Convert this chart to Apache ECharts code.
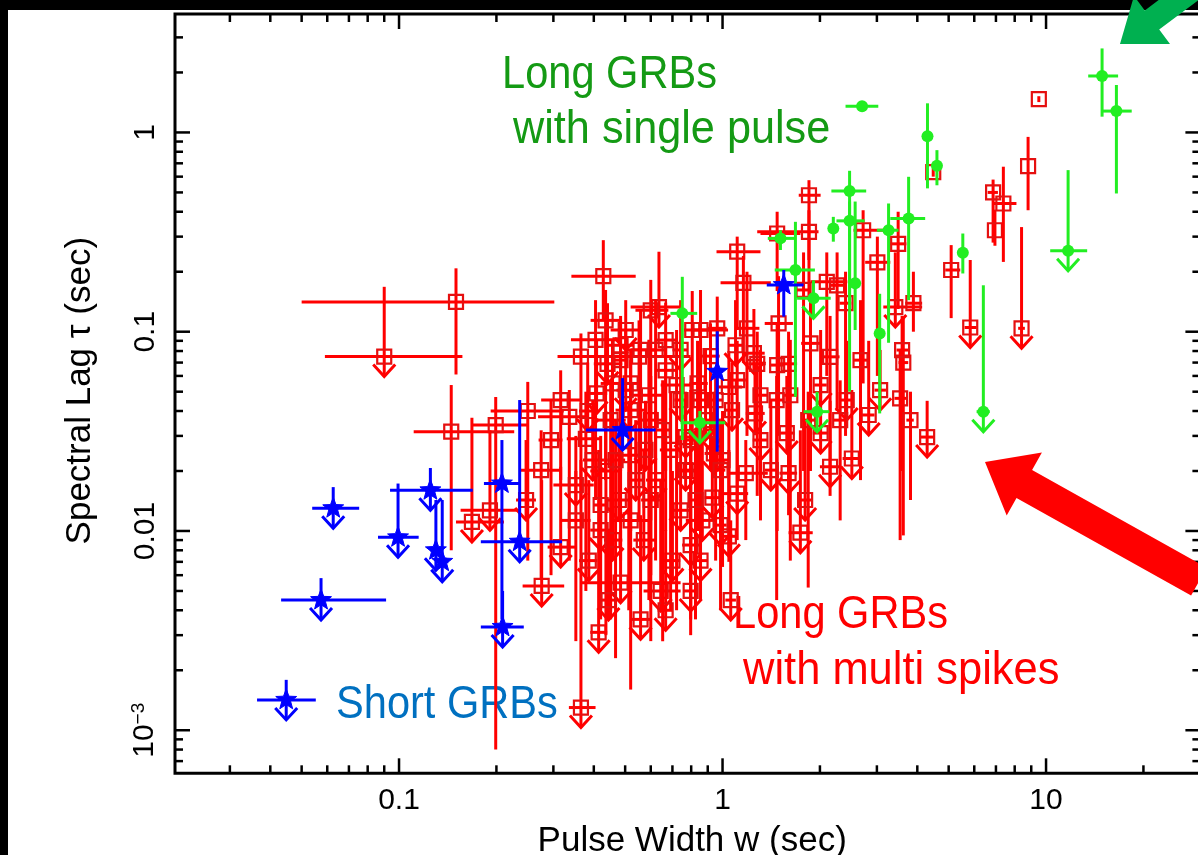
<!DOCTYPE html>
<html><head><meta charset="utf-8">
<script src="https://cdn.jsdelivr.net/npm/echarts@6/dist/echarts.min.js"></script>
<style>
html,body{margin:0;padding:0;background:#000;width:1198px;height:855px;overflow:hidden;}
#chart{position:absolute;left:0;top:0;width:1198px;height:855px;}
</style></head><body><div id="chart"></div>
<script>
// Each point: [x, y, xLow, xHigh, yLow, yHigh, upperLimit]
const longMultiSpike = [
[0.150,0.141,0.050,0.302,0.061,0.208,0],
[0.090,0.075,0.059,0.157,0.075,0.168,1],
[0.428,0.190,0.341,0.539,0.114,0.288,0],
[0.145,0.0315,0.111,0.227,0.008,0.054,0],
[0.199,0.034,0.167,0.250,0.0008,0.047,0],
[0.250,0.040,0.192,0.323,0.0071,0.056,0],
[0.168,0.0111,0.150,0.211,0.0111,0.037,1],
[0.191,0.0127,0.155,0.238,0.0127,0.032,1],
[0.316,0.0083,0.288,0.352,0.0083,0.021,1],
[0.276,0.0053,0.241,0.324,0.0053,0.018,1],
[0.365,0.0013,0.335,0.405,0.0013,0.0227,1],
[0.414,0.0031,0.39,0.44,0.0031,0.0255,1],
[0.484,0.0055,0.365,0.742,0.0055,0.0101,1],
[0.644,0.0050,0.57,0.742,0.0050,0.018,1],
[0.571,0.0090,0.53,0.62,0.0090,0.0255,1],
[0.52,0.0113,0.451,0.60,0.0016,0.020,0],
[0.636,0.133,0.52,0.742,0.133,0.252,1],
[0.365,0.075,0.309,0.532,0.0143,0.098,0],
[0.441,0.069,0.40,0.49,0.069,0.139,1],
[0.552,0.075,0.467,0.797,0.0113,0.114,0],
[0.336,0.0374,0.269,0.383,0.0071,0.051,0],
[1.85,0.484,1.72,2.01,0.229,0.576,0],
[1.11,0.252,0.958,1.31,0.102,0.30,0],
[1.85,0.317,1.28,1.98,0.144,0.407,0],
[1.475,0.311,1.31,1.74,0.16,0.40,0],
[2.72,0.323,2.54,3.23,0.055,0.407,0],
[3.01,0.223,2.76,3.30,0.06,0.30,0],
[3.49,0.276,3.3,3.7,0.13,0.40,0],
[5.09,0.204,4.88,5.43,0.117,0.272,0],
[6.86,0.50,6.6,7.1,0.28,0.58,0],
[6.95,0.323,6.95,6.95,0.27,0.41,0],
[7.38,0.44,6.86,8.1,0.224,0.673,0],
[8.8,0.677,8.8,8.8,0.407,0.95,0],
[4.48,0.632,4.48,4.48,0.6,0.66,0],
[9.5,1.47,9.5,9.5,1.42,1.52,0],
[5.83,0.105,5.6,6.1,0.105,0.229,1],
[8.4,0.104,8.2,8.6,0.104,0.335,1],
[3.42,0.133,3.14,4.14,0.133,0.25,1],
[3.89,0.139,3.67,4.14,0.10,0.20,0],
[3.62,0.070,3.5,3.75,0.0095,0.118,0],
[0.866,0.0113,0.77,0.95,0.0113,0.032,1],
[1.046,0.0094,0.98,1.1,0.0094,0.0255,1],
[1.11,0.0154,1.0,1.2,0.0154,0.036,1],
[1.18,0.0195,1.04,1.38,0.009,0.0286,0],
[1.74,0.0098,1.6,1.9,0.0098,0.032,1],
[1.60,0.0195,1.5,1.7,0.0195,0.045,1],
[2.15,0.021,2.0,2.3,0.021,0.045,1],
[2.51,0.0231,2.35,2.68,0.0231,0.051,1],
[4.29,0.0296,4.1,4.5,0.0296,0.045,1],
[1.16,0.176,0.986,1.41,0.07,0.24,0],
[2.10,0.178,1.87,2.43,0.06,0.25,0],
[2.26,0.171,2.15,2.4,0.04,0.25,0],
[2.40,0.139,2.3,2.5,0.03,0.2,0],
[0.806,0.102,0.76,1.04,0.03,0.16,0],
[0.963,0.104,0.9,1.03,0.02,0.15,0],
[1.19,0.104,1.1,1.3,0.03,0.2,0],
[1.49,0.110,1.35,1.65,0.03,0.19,0],
[1.87,0.0874,1.75,2.0,0.02,0.15,0],
[2.15,0.0748,2.0,2.3,0.015,0.12,0],
[1.25,0.078,1.15,1.35,0.078,0.13,1],
[1.475,0.068,1.4,1.55,0.01,0.11,0],
[1.046,0.0528,0.95,1.15,0.007,0.08,0],
[1.26,0.0389,1.18,1.35,0.0389,0.07,1],
[2.42,0.0454,2.3,2.55,0.0454,0.09,1],
[2.83,0.0382,2.7,2.95,0.0382,0.09,1],
[3.54,0.0463,3.4,3.7,0.009,0.08,0],
[3.59,0.0809,3.45,3.75,0.02,0.12,0],
[0.94,0.0245,0.88,1.0,0.0245,0.05,1],
[0.457,0.055,0.42,0.5,0.015,0.09,0],
[0.52,0.055,0.48,0.56,0.01,0.08,0],
[0.558,0.081,0.5,0.62,0.02,0.13,0],
[0.408,0.049,0.38,0.44,0.049,0.09,1],
[0.378,0.029,0.33,0.42,0.005,0.05,0],
[0.352,0.017,0.3,0.4,0.017,0.03,1],
[0.436,0.020,0.39,0.48,0.003,0.04,0],
[0.478,0.0143,0.44,0.52,0.0143,0.03,1],
[0.513,0.024,0.47,0.56,0.004,0.045,0],
[0.60,0.036,0.55,0.66,0.006,0.06,0],
[0.621,0.018,0.58,0.67,0.018,0.04,1],
[0.691,0.0255,0.64,0.74,0.004,0.05,0],
[0.742,0.0127,0.70,0.79,0.0127,0.03,1],
[0.797,0.020,0.74,0.86,0.003,0.04,0],
[0.855,0.0454,0.80,0.92,0.008,0.07,0],
[0.918,0.0754,0.86,0.98,0.02,0.11,0],
[0.837,0.055,0.79,0.9,0.01,0.09,0],
[0.667,0.064,0.62,0.72,0.01,0.10,0],
[0.70,0.0071,0.66,0.74,0.0071,0.02,1],
[0.797,0.0085,0.75,0.85,0.0085,0.025,1],
[0.42,0.0101,0.39,0.45,0.0101,0.03,1],
[0.558,0.0036,0.52,0.6,0.0036,0.012,1],
[0.93,0.0147,0.88,0.98,0.0147,0.03,1],
[1.0,0.0227,0.95,1.05,0.0066,0.04,0],
[0.383,0.040,0.36,0.41,0.040,0.07,1],
[0.295,0.0286,0.27,0.32,0.006,0.045,0],
[0.484,0.0855,0.44,0.53,0.02,0.12,0],
[0.667,0.0908,0.62,0.72,0.02,0.14,0],
[1.31,0.0286,1.24,1.38,0.0286,0.05,1],
[1.58,0.031,1.5,1.67,0.031,0.06,1],
[2.01,0.031,1.9,2.12,0.031,0.06,1],
[1.11,0.0572,1.05,1.18,0.009,0.09,0],
[1.28,0.069,1.2,1.36,0.015,0.1,0],
[1.6,0.069,1.5,1.7,0.012,0.1,0],
[1.78,0.162,1.7,1.86,0.02,0.25,0],
[1.07,0.0404,1.02,1.12,0.0404,0.07,1],
[0.769,0.0296,0.72,0.82,0.0296,0.05,1],
[1.47,0.0454,1.4,1.55,0.0045,0.06,0],
[1.84,0.036,1.75,1.95,0.0052,0.05,0],
[3.81,0.036,3.7,3.9,0.0143,0.05,0],
[0.435,0.114,0.391,0.484,0.018,0.162,0],
[0.502,0.102,0.451,0.558,0.102,0.144,1],
[0.60,0.128,0.538,0.68,0.0113,0.182,0],
[0.451,0.036,0.405,0.502,0.0036,0.057,0],
[0.52,0.0404,0.467,0.578,0.0404,0.072,1],
[0.592,0.048,0.527,0.653,0.0045,0.091,0],
[0.721,0.054,0.644,0.797,0.004,0.102,0],
[0.886,0.036,0.797,0.986,0.036,0.081,1],
[0.397,0.0227,0.37,0.43,0.0227,0.045,1],
[0.457,0.009,0.43,0.49,0.009,0.020,1],
[0.60,0.0143,0.56,0.64,0.0028,0.0286,0],
[0.769,0.0202,0.72,0.82,0.0202,0.045,1],
[0.855,0.0071,0.81,0.9,0.0071,0.018,1],
[0.986,0.0107,0.94,1.03,0.0107,0.0255,1],
[0.667,0.004,0.63,0.7,0.004,0.0101,1],
[0.275,0.0202,0.238,0.316,0.0057,0.032,0],
[0.247,0.0143,0.23,0.265,0.0143,0.0286,1],
[0.352,0.0113,0.316,0.391,0.0028,0.020,0],
[0.797,0.0286,0.76,0.84,0.0036,0.051,0],
[0.952,0.0454,0.91,1.0,0.0071,0.064,0],
[1.31,0.048,1.25,1.38,0.0113,0.081,0],
[1.41,0.0202,1.35,1.47,0.0202,0.045,1],
[1.80,0.0143,1.72,1.88,0.0143,0.036,1],
[2.31,0.036,2.2,2.42,0.0113,0.057,0],
[0.484,0.072,0.46,0.51,0.0071,0.114,0],
[0.405,0.091,0.34,0.484,0.0143,0.144,0],
[0.855,0.102,0.8,0.91,0.0045,0.162,0],
[0.742,0.081,0.7,0.78,0.081,0.144,1],
[1.097,0.0855,1.04,1.15,0.0855,0.144,1],
[1.62,0.048,1.55,1.7,0.0071,0.091,0],
[2.01,0.054,1.92,2.1,0.054,0.102,1],
[2.67,0.072,2.55,2.8,0.018,0.144,0],
[3.07,0.0509,2.95,3.2,0.0509,0.081,1],
[1.06,0.0045,1.02,1.1,0.0045,0.0113,1],
[0.578,0.0255,0.55,0.61,0.0255,0.045,1],
[0.42,0.0135,0.4,0.44,0.0036,0.020,0],
[0.316,0.0454,0.275,0.365,0.018,0.064,0],
[0.467,0.0227,0.44,0.5,0.0023,0.036,0],
[0.539,0.018,0.51,0.57,0.018,0.036,1],
[0.653,0.0321,0.62,0.69,0.0028,0.057,0],
[0.742,0.0454,0.71,0.78,0.0454,0.091,1],
[0.825,0.0143,0.79,0.86,0.0036,0.032,0],
[0.918,0.0321,0.88,0.96,0.0321,0.072,1],
[0.502,0.0509,0.47,0.53,0.0509,0.102,1],
[0.621,0.081,0.59,0.66,0.0071,0.144,0],
[0.986,0.0202,0.95,1.02,0.004,0.036,0],
[0.386,0.0071,0.36,0.41,0.0071,0.018,1],
[0.444,0.0045,0.42,0.47,0.0045,0.0101,1],
[0.797,0.0050,0.76,0.84,0.0050,0.0113,1]
];
const longSinglePulse = [
[2.70,1.355,2.40,3.03,1.3,1.4,0],
[4.30,0.958,4.30,4.30,0.524,1.40,0],
[4.60,0.68,4.60,4.60,0.543,0.815,0],
[14.9,1.92,13.5,16.7,1.20,2.64,0],
[16.5,1.28,14.9,18.4,0.494,1.73,0],
[11.7,0.255,10.3,13.4,0.255,0.647,1],
[5.53,0.249,5.53,5.53,0.196,0.311,0],
[3.76,0.370,3.30,4.23,0.144,0.599,0],
[3.26,0.323,3.0,3.5,0.088,0.44,0],
[3.06,0.098,3.06,3.06,0.0389,0.155,0],
[2.47,0.509,2.17,2.78,0.144,0.642,0],
[2.47,0.360,2.25,2.75,0.05,0.45,0],
[2.20,0.33,2.20,2.20,0.283,0.377,0],
[2.57,0.175,2.57,2.57,0.102,0.45,0],
[0.751,0.1236,0.69,0.835,0.0286,0.1886,0],
[0.851,0.0349,0.742,1.02,0.0349,0.04,1],
[1.51,0.294,1.38,1.67,0.257,0.323,0],
[1.68,0.204,1.45,1.93,0.0471,0.356,0],
[1.91,0.147,1.70,2.16,0.147,0.181,1],
[1.96,0.0397,1.78,2.14,0.0397,0.05,1],
[6.40,0.0397,6.1,6.7,0.0397,0.171,1]
];
const shortGRB = [
[0.0626,0.0130,0.0539,0.0753,0.0130,0.0166,1],
[0.0993,0.00929,0.0861,0.115,0.00929,0.0173,1],
[0.125,0.016,0.0938,0.169,0.016,0.0207,1],
[0.130,0.0080,0.125,0.135,0.0080,0.0143,1],
[0.136,0.0070,0.13,0.142,0.0070,0.0143,1],
[0.208,0.0173,0.183,0.238,0.0036,0.0286,0],
[0.209,0.0033,0.179,0.243,0.0033,0.005,1],
[0.236,0.00883,0.179,0.319,0.00883,0.0454,1],
[0.491,0.0321,0.378,0.621,0.0321,0.0585,1],
[0.963,0.0629,0.94,0.99,0.025,0.1005,0],
[1.546,0.1714,1.37,1.78,0.119,0.204,0],
[0.0574,0.0045,0.0432,0.0912,0.0045,0.0058,1]
];
const shortLegendSymbol = [[0.0448,0.00142,0.0364,0.0553,0.00142,0.00179,1]];

const xRange = [0.0203, 30];
const yRange = [6.08e-4, 3.93];
const xTickValues = [0.1, 1, 10];
const xTickLabels = ['0.1', '1', '10'];
const yTickValues = [0.001, 0.01, 0.1, 1];
const yTickLabels = ['{m|10}{s|\u22123}', '0.01', '0.1', '1'];

function labelFor(values, labels, v) {
  for (let i = 0; i < values.length; i++) {
    if (Math.abs(Math.log10(v / values[i])) < 1e-6) return labels[i];
  }
  return '';
}
function minorTicks(range) {
  const out = [];
  for (let e = -5; e <= 3; e++) for (let k = 2; k <= 9; k++) {
    const v = +(k * Math.pow(10, e)).toPrecision(3);
    if (v > range[0] * 1.001 && v < range[1] * 0.999) out.push(v);
  }
  return out;
}
const tickData = [];
xTickValues.forEach(v => tickData.push([v, 1, 0, 1]));
minorTicks(xRange).forEach(v => tickData.push([v, 1, 0, 0]));
yTickValues.forEach(v => tickData.push([1, v, 1, 1]));
minorTicks(yRange).forEach(v => tickData.push([1, v, 1, 0]));

function renderTick(params, api) {
  const cs = params.coordSys;
  const len = api.value(3) ? 15 : 8;
  const style = { stroke: '#000', lineWidth: 2.5 };
  if (api.value(2) === 0) {
    const px = api.coord([api.value(0), 1])[0];
    const b = cs.y + cs.height;
    return { type: 'group', children: [
      { type: 'line', shape: { x1: px, y1: b, x2: px, y2: b - len }, style },
      { type: 'line', shape: { x1: px, y1: cs.y, x2: px, y2: cs.y + len }, style }
    ]};
  }
  const py = api.coord([1, api.value(1)])[1];
  const r = cs.x + cs.width;
  return { type: 'group', children: [
    { type: 'line', shape: { x1: cs.x, y1: py, x2: cs.x + len, y2: py }, style },
    { type: 'line', shape: { x1: r, y1: py, x2: r - len, y2: py }, style }
  ]};
}

function starPoints(cx, cy, R, r) {
  const pts = [];
  for (let i = 0; i < 10; i++) {
    const a = -Math.PI / 2 + i * Math.PI / 5;
    const rad = i % 2 ? r : R;
    pts.push([cx + rad * Math.cos(a), cy + rad * Math.sin(a)]);
  }
  return pts;
}

function makeRender(kind, color, lw) {
  return function (params, api) {
    const x = api.value(0), y = api.value(1);
    const p = api.coord([x, y]);
    const xl = api.coord([api.value(2), y])[0];
    const xh = api.coord([api.value(3), y])[0];
    const yl = api.coord([x, api.value(4)])[1];
    const yh = api.coord([x, api.value(5)])[1];
    const ul = api.value(6) === 1;
    const ls = { stroke: color, lineWidth: lw, fill: null };
    const ch = [];
    if (xh - xl > 1) ch.push({ type: 'line', shape: { x1: xl, y1: p[1], x2: xh, y2: p[1] }, style: ls });
    const bottom = ul ? p[1] + 20 : yl;
    ch.push({ type: 'line', shape: { x1: p[0], y1: yh, x2: p[0], y2: bottom }, style: ls });
    if (ul) ch.push({ type: 'polyline', shape: { points: [[p[0] - 11, p[1] + 8], [p[0], p[1] + 20], [p[0] + 11, p[1] + 8]] }, style: ls });
    if (kind === 'square') {
      ch.push({ type: 'rect', shape: { x: p[0] - 7, y: p[1] - 7, width: 14, height: 14 }, style: { stroke: '#e51010', lineWidth: 2.2, fill: null } });
    } else if (kind === 'star') {
      ch.push({ type: 'polygon', shape: { points: starPoints(p[0], p[1], 11, 4.6) }, style: { fill: color, stroke: color, lineWidth: 1 } });
    } else {
      ch.push({ type: 'circle', shape: { cx: p[0], cy: p[1], r: 6 }, style: { fill: color, stroke: null } });
    }
    return { type: 'group', children: ch };
  };
}

const dims = ['x', 'y', 'xLo', 'xHi', 'yLo', 'yHi', 'ul'];
const FONT = '"Liberation Sans", Arial, Helvetica, sans-serif';
const ANNOT = '47px "Liberation Sans", Arial, sans-serif';
function annot(text, x, y, color, sx) {
  return { type: 'text', z: 1, x: x, y: y, scaleX: sx, scaleY: 1,
    style: { text: text, x: 0, y: 0, verticalAlign: 'middle', align: 'left', font: ANNOT, fill: color } };
}

const chart = echarts.init(document.getElementById('chart'), null, { width: 1198, height: 855 });
chart.setOption({
  animation: false,
  backgroundColor: '#000',
  grid: { left: 175, top: 14, right: -2.4, bottom: 81.7, containLabel: false, outerBoundsMode: 'none',
    show: true, borderColor: '#000', borderWidth: 3, backgroundColor: 'transparent' },
  xAxis: {
    type: 'log', logBase: 10, min: xRange[0], max: xRange[1],
    axisLine: { show: false }, axisTick: { show: false }, splitLine: { show: false }, minorTick: { show: false },
    axisLabel: { show: true, showMinLabel: false, showMaxLabel: false, margin: 12, color: '#000', fontSize: 30, fontFamily: FONT,
      formatter: v => labelFor(xTickValues, xTickLabels, v) },
    name: 'Pulse Width w (sec)', nameLocation: 'middle', nameGap: 51, nameMoveOverlap: false,
    nameTextStyle: { color: '#000', fontSize: 35, fontFamily: FONT, padding: [0, 0, 0, 9] }
  },
  yAxis: {
    type: 'log', logBase: 10, min: yRange[0], max: yRange[1],
    axisLine: { show: false }, axisTick: { show: false }, splitLine: { show: false }, minorTick: { show: false },
    axisLabel: { show: true, showMinLabel: false, showMaxLabel: false, rotate: 90, margin: 14, color: '#000', fontSize: 30, fontFamily: FONT,
      formatter: v => labelFor(yTickValues, yTickLabels, v),
      rich: { m: { fontSize: 30, fontFamily: FONT, color: '#000', lineHeight: 32 },
              s: { fontSize: 19, fontFamily: FONT, color: '#000', lineHeight: 20, verticalAlign: 'top' } } },
    name: 'Spectral Lag \u03c4 (sec)', nameLocation: 'middle', nameGap: 77, nameMoveOverlap: false,
    nameTextStyle: { color: '#000', fontSize: 35, fontFamily: FONT, padding: [0, 0, 0, 6] }
  },
  graphic: [
    { type: 'rect', z: -10, shape: { x: 8, y: 10, width: 1200, height: 860 }, style: { fill: '#fff' } },
    annot('Long GRBs', 502, 75, '#149a14', 0.885),
    annot('with single pulse', 513, 130, '#149a14', 0.92),
    annot('Long GRBs', 733, 615, '#ff0000', 0.885),
    annot('with multi spikes', 743, 671, '#ff0000', 0.925),
    annot('Short GRBs', 336, 705, '#0070c0', 0.885),
    { type: 'polygon', z: 50, shape: { points: [[985,462],[1041.9,452.6],[1032.1,470.0],[1206.7,567.6],[1191.1,595.6],[1016.5,498.0],[1006.7,515.4]] }, style: { fill: '#ff0000' } },
    { type: 'polygon', z: 50, shape: { points: [[1120,44],[1170,44],[1159.2,29.6],[1255.2,-42.4],[1240.8,-61.6],[1144.8,10.4],[1134,-4]] }, style: { fill: '#00b050' } }
  ],
  series: [
    { type: 'custom', name: 'ticks', data: tickData, renderItem: renderTick, encode: { x: 0, y: 1 }, z: 3, silent: true },
    { type: 'custom', name: 'Long GRBs with multi spikes', dimensions: dims, data: longMultiSpike, encode: { x: 0, y: 1 }, renderItem: makeRender('square', '#ff0000', 3), z: 4 },
    { type: 'custom', name: 'Long GRBs with single pulse', dimensions: dims, data: longSinglePulse, encode: { x: 0, y: 1 }, renderItem: makeRender('circle', '#22ee22', 3), z: 5 },
    { type: 'custom', name: 'Short GRBs', dimensions: dims, data: shortGRB, encode: { x: 0, y: 1 }, renderItem: makeRender('star', '#0000ff', 3), z: 6 },
    { type: 'custom', name: 'Short GRBs legend', dimensions: dims, data: shortLegendSymbol, encode: { x: 0, y: 1 }, renderItem: makeRender('star', '#0000ff', 3), z: 6 }
  ]
});
</script></body></html>
